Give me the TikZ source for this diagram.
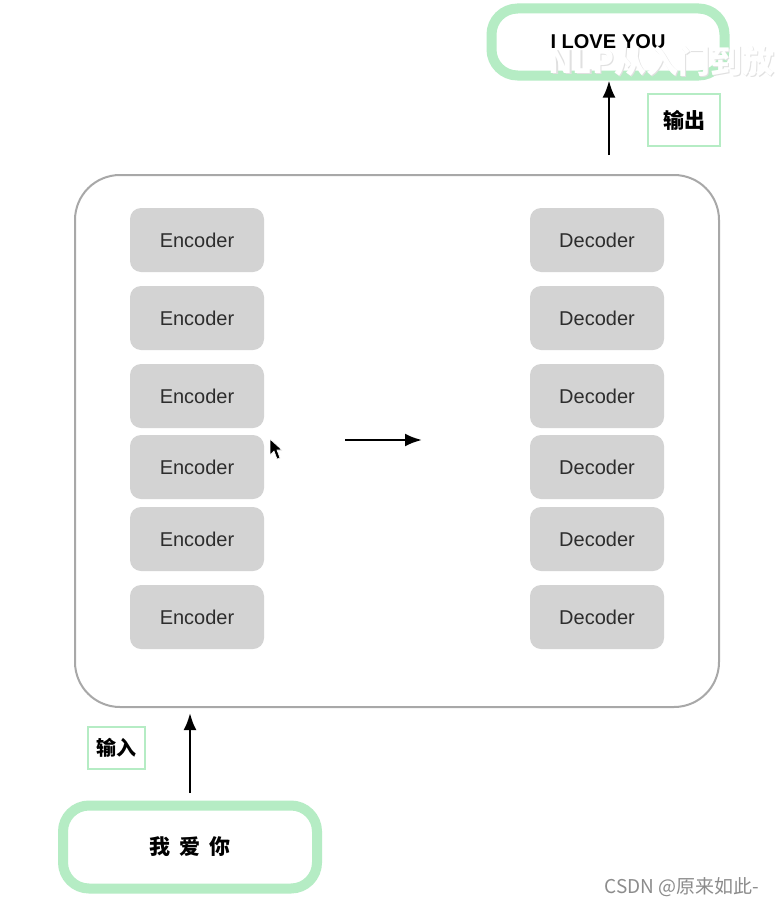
\documentclass[tikz,border=0pt]{standalone}
\usepackage{fontspec}
\setmainfont{Liberation Sans}
\newfontfamily\cjk{Noto Sans CJK SC}
\usetikzlibrary{arrows.meta}
\definecolor{gbox}{RGB}{211,211,211}
\definecolor{gline}{RGB}{168,168,168}
\definecolor{lgreen}{RGB}{181,236,196}
\definecolor{txtgray}{RGB}{45,45,45}
\definecolor{wmgray}{RGB}{140,140,140}
\tikzset{
  coder/.style={fill=gbox, draw=none, rounded corners=11pt, minimum width=134pt, minimum height=64pt, text=txtgray, font=\fontsize{20}{22}\selectfont},
  ioBox/.style={draw=lgreen, line width=10pt, rounded corners=26pt, fill=white, minimum width=232pt, minimum height=64pt, font=\bfseries\fontsize{20}{22}\selectfont},
  tagBox/.style={draw=lgreen, line width=2pt, fill=white, font=\cjk\bfseries\fontsize{21}{22}\selectfont},
  arr/.style={-{Latex[length=17pt,width=13pt]}, line width=2.5pt, black}
}
\begin{document}
\begin{tikzpicture}[x=1pt,y=-1pt]
\useasboundingbox (0,0) rectangle (779,907);
\fill[white] (0,0) rectangle (779,907);
% container
\draw[gline, line width=2pt, rounded corners=45pt] (75,175) rectangle (719,707);
% encoders and decoders
\foreach \i/\y in {1/240,2/318,3/396,4/467,5/539,6/617}{
  \node[coder] (enc\i) at (197,\y) {Encoder};
  \node[coder] (dec\i) at (597,\y) {Decoder};
}
% middle arrow
\coordinate (ma) at (345,440);
\coordinate (mb) at (422,440);
\draw[arr] (ma) -- (mb);
% mouse pointer
\fill[black, draw=white, line width=0.6pt] (270,439) -- (270,455) -- (274,451) -- (277,459) -- (280,458) -- (277,450) -- (282,450) -- cycle;
% output box
\node[ioBox, minimum width=233pt, minimum height=67pt] (out) at (608,42) {I LOVE\hspace{0.3em}YOU};
\node[anchor=west, text=black!12, font=\cjk\bfseries\fontsize{32}{34}\selectfont] (wm1s) at (546.6,62.6) {NLP从入门到放};
\node[anchor=west, text=white, font=\cjk\bfseries\fontsize{32}{34}\selectfont] (wm1) at (545,61) {NLP从入门到放};
\coordinate (outarrS) at (609,155);
\draw[arr] (outarrS) -- (out.south -| outarrS);
\node[tagBox, minimum width=72pt, minimum height=52pt] (outtag) at (684,120) {输出};
% input box
\node[ioBox, minimum width=254pt, minimum height=83pt, font=\cjk\bfseries\fontsize{21}{22}\selectfont] (in) at (190,847) {我\hspace{0.45em}爱\hspace{0.45em}你};
\coordinate (inarrT) at (190,713);
\draw[arr] (190,793) -- (inarrT);
\node[tagBox, minimum width=57pt, minimum height=42pt, font=\cjk\bfseries\fontsize{20}{22}\selectfont] (intag) at (116,748) {输入};
% watermark
\node[anchor=east, text=wmgray, font=\cjk\fontsize{19}{20}\selectfont] (wm2) at (763,887) {CSDN @原来如此-};
\end{tikzpicture}
\end{document}
